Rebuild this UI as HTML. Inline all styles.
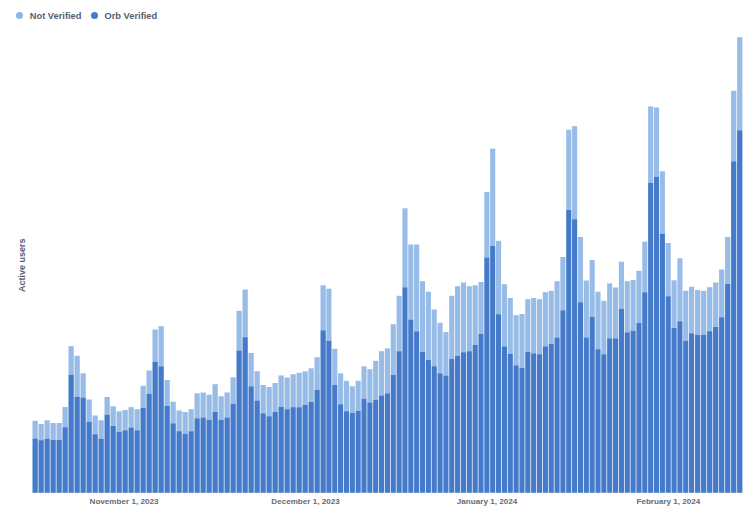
<!DOCTYPE html>
<html><head><meta charset="utf-8"><title>Active users</title>
<style>
html,body{margin:0;padding:0;background:#fff;}
body{width:750px;height:514px;position:relative;overflow:hidden;font-family:"Liberation Sans",sans-serif;font-weight:bold;}
.legend{position:absolute;left:0;top:0;height:30px;}
.dot{position:absolute;width:7.2px;height:7.2px;border-radius:50%;}
.lt{position:absolute;font-size:9.3px;line-height:12px;color:#575e73;white-space:nowrap;}
.yl{position:absolute;font-size:9px;line-height:12px;color:#575e73;white-space:nowrap;transform-origin:0 0;transform:rotate(-90deg);}
.xl{position:absolute;font-size:8.1px;line-height:10px;color:#666b78;white-space:nowrap;transform:translateX(-50%);}
svg{position:absolute;left:0;top:0;}
</style></head><body>
<svg width="750" height="514" viewBox="0 0 750 514">
<rect x="32.50" y="420.8" width="5.28" height="17.6" fill="#98bce8"/>
<rect x="32.50" y="438.4" width="5.28" height="54.4" fill="#447ac9"/>
<rect x="38.50" y="424.0" width="5.28" height="16.2" fill="#98bce8"/>
<rect x="38.50" y="440.2" width="5.28" height="52.6" fill="#447ac9"/>
<rect x="44.50" y="420.3" width="5.28" height="18.5" fill="#98bce8"/>
<rect x="44.50" y="438.8" width="5.28" height="54.0" fill="#447ac9"/>
<rect x="50.50" y="423.0" width="5.28" height="17.0" fill="#98bce8"/>
<rect x="50.50" y="440.0" width="5.28" height="52.8" fill="#447ac9"/>
<rect x="56.50" y="423.0" width="5.28" height="17.0" fill="#98bce8"/>
<rect x="56.50" y="440.0" width="5.28" height="52.8" fill="#447ac9"/>
<rect x="62.50" y="407.0" width="5.28" height="20.2" fill="#98bce8"/>
<rect x="62.50" y="427.2" width="5.28" height="65.6" fill="#447ac9"/>
<rect x="68.50" y="346.2" width="5.28" height="28.5" fill="#98bce8"/>
<rect x="68.50" y="374.7" width="5.28" height="118.1" fill="#447ac9"/>
<rect x="74.50" y="355.8" width="5.28" height="41.2" fill="#98bce8"/>
<rect x="74.50" y="397.0" width="5.28" height="95.8" fill="#447ac9"/>
<rect x="80.50" y="373.3" width="5.28" height="24.2" fill="#98bce8"/>
<rect x="80.50" y="397.5" width="5.28" height="95.3" fill="#447ac9"/>
<rect x="86.50" y="399.5" width="5.28" height="22.2" fill="#98bce8"/>
<rect x="86.50" y="421.7" width="5.28" height="71.1" fill="#447ac9"/>
<rect x="92.50" y="415.5" width="5.28" height="18.7" fill="#98bce8"/>
<rect x="92.50" y="434.2" width="5.28" height="58.6" fill="#447ac9"/>
<rect x="98.50" y="420.3" width="5.28" height="18.4" fill="#98bce8"/>
<rect x="98.50" y="438.7" width="5.28" height="54.1" fill="#447ac9"/>
<rect x="104.50" y="397.0" width="5.28" height="17.7" fill="#98bce8"/>
<rect x="104.50" y="414.7" width="5.28" height="78.1" fill="#447ac9"/>
<rect x="110.50" y="406.3" width="5.28" height="19.7" fill="#98bce8"/>
<rect x="110.50" y="426.0" width="5.28" height="66.8" fill="#447ac9"/>
<rect x="116.50" y="411.3" width="5.28" height="20.4" fill="#98bce8"/>
<rect x="116.50" y="431.7" width="5.28" height="61.1" fill="#447ac9"/>
<rect x="122.50" y="410.0" width="5.28" height="20.3" fill="#98bce8"/>
<rect x="122.50" y="430.3" width="5.28" height="62.5" fill="#447ac9"/>
<rect x="128.50" y="407.2" width="5.28" height="20.3" fill="#98bce8"/>
<rect x="128.50" y="427.5" width="5.28" height="65.3" fill="#447ac9"/>
<rect x="134.50" y="409.2" width="5.28" height="21.1" fill="#98bce8"/>
<rect x="134.50" y="430.3" width="5.28" height="62.5" fill="#447ac9"/>
<rect x="140.50" y="385.8" width="5.28" height="22.0" fill="#98bce8"/>
<rect x="140.50" y="407.8" width="5.28" height="85.0" fill="#447ac9"/>
<rect x="146.50" y="370.5" width="5.28" height="23.3" fill="#98bce8"/>
<rect x="146.50" y="393.8" width="5.28" height="99.0" fill="#447ac9"/>
<rect x="152.50" y="329.5" width="5.28" height="32.2" fill="#98bce8"/>
<rect x="152.50" y="361.7" width="5.28" height="131.1" fill="#447ac9"/>
<rect x="158.50" y="326.2" width="5.28" height="40.1" fill="#98bce8"/>
<rect x="158.50" y="366.3" width="5.28" height="126.5" fill="#447ac9"/>
<rect x="164.50" y="380.0" width="5.28" height="25.8" fill="#98bce8"/>
<rect x="164.50" y="405.8" width="5.28" height="87.0" fill="#447ac9"/>
<rect x="170.50" y="401.7" width="5.28" height="21.6" fill="#98bce8"/>
<rect x="170.50" y="423.3" width="5.28" height="69.5" fill="#447ac9"/>
<rect x="176.50" y="410.5" width="5.28" height="20.7" fill="#98bce8"/>
<rect x="176.50" y="431.2" width="5.28" height="61.6" fill="#447ac9"/>
<rect x="182.50" y="412.0" width="5.28" height="21.7" fill="#98bce8"/>
<rect x="182.50" y="433.7" width="5.28" height="59.1" fill="#447ac9"/>
<rect x="188.50" y="409.2" width="5.28" height="22.0" fill="#98bce8"/>
<rect x="188.50" y="431.2" width="5.28" height="61.6" fill="#447ac9"/>
<rect x="194.50" y="393.3" width="5.28" height="25.0" fill="#98bce8"/>
<rect x="194.50" y="418.3" width="5.28" height="74.5" fill="#447ac9"/>
<rect x="200.50" y="392.5" width="5.28" height="25.0" fill="#98bce8"/>
<rect x="200.50" y="417.5" width="5.28" height="75.3" fill="#447ac9"/>
<rect x="206.50" y="394.7" width="5.28" height="25.0" fill="#98bce8"/>
<rect x="206.50" y="419.7" width="5.28" height="73.1" fill="#447ac9"/>
<rect x="212.50" y="384.2" width="5.28" height="27.8" fill="#98bce8"/>
<rect x="212.50" y="412.0" width="5.28" height="80.8" fill="#447ac9"/>
<rect x="218.50" y="396.2" width="5.28" height="23.5" fill="#98bce8"/>
<rect x="218.50" y="419.7" width="5.28" height="73.1" fill="#447ac9"/>
<rect x="224.50" y="392.5" width="5.28" height="25.0" fill="#98bce8"/>
<rect x="224.50" y="417.5" width="5.28" height="75.3" fill="#447ac9"/>
<rect x="230.50" y="377.3" width="5.28" height="26.5" fill="#98bce8"/>
<rect x="230.50" y="403.8" width="5.28" height="89.0" fill="#447ac9"/>
<rect x="236.50" y="310.8" width="5.28" height="39.7" fill="#98bce8"/>
<rect x="236.50" y="350.5" width="5.28" height="142.3" fill="#447ac9"/>
<rect x="242.50" y="289.5" width="5.28" height="47.7" fill="#98bce8"/>
<rect x="242.50" y="337.2" width="5.28" height="155.6" fill="#447ac9"/>
<rect x="248.50" y="353.0" width="5.28" height="33.3" fill="#98bce8"/>
<rect x="248.50" y="386.3" width="5.28" height="106.5" fill="#447ac9"/>
<rect x="254.50" y="371.2" width="5.28" height="29.3" fill="#98bce8"/>
<rect x="254.50" y="400.5" width="5.28" height="92.3" fill="#447ac9"/>
<rect x="260.50" y="385.0" width="5.28" height="28.3" fill="#98bce8"/>
<rect x="260.50" y="413.3" width="5.28" height="79.5" fill="#447ac9"/>
<rect x="266.50" y="387.0" width="5.28" height="29.2" fill="#98bce8"/>
<rect x="266.50" y="416.2" width="5.28" height="76.6" fill="#447ac9"/>
<rect x="272.50" y="383.0" width="5.28" height="29.0" fill="#98bce8"/>
<rect x="272.50" y="412.0" width="5.28" height="80.8" fill="#447ac9"/>
<rect x="278.50" y="375.4" width="5.28" height="31.3" fill="#98bce8"/>
<rect x="278.50" y="406.7" width="5.28" height="86.1" fill="#447ac9"/>
<rect x="284.50" y="377.5" width="5.28" height="31.7" fill="#98bce8"/>
<rect x="284.50" y="409.2" width="5.28" height="83.6" fill="#447ac9"/>
<rect x="290.50" y="374.2" width="5.28" height="33.0" fill="#98bce8"/>
<rect x="290.50" y="407.2" width="5.28" height="85.6" fill="#447ac9"/>
<rect x="296.50" y="372.8" width="5.28" height="34.4" fill="#98bce8"/>
<rect x="296.50" y="407.2" width="5.28" height="85.6" fill="#447ac9"/>
<rect x="302.50" y="371.3" width="5.28" height="33.7" fill="#98bce8"/>
<rect x="302.50" y="405.0" width="5.28" height="87.8" fill="#447ac9"/>
<rect x="308.50" y="368.3" width="5.28" height="33.7" fill="#98bce8"/>
<rect x="308.50" y="402.0" width="5.28" height="90.8" fill="#447ac9"/>
<rect x="314.50" y="357.2" width="5.28" height="32.8" fill="#98bce8"/>
<rect x="314.50" y="390.0" width="5.28" height="102.8" fill="#447ac9"/>
<rect x="320.50" y="285.3" width="5.28" height="45.0" fill="#98bce8"/>
<rect x="320.50" y="330.3" width="5.28" height="162.5" fill="#447ac9"/>
<rect x="326.35" y="288.7" width="5.130000000000001" height="52.1" fill="#98bce8"/>
<rect x="326.35" y="340.8" width="5.130000000000001" height="152.0" fill="#447ac9"/>
<rect x="332.20" y="348.8" width="5.130000000000001" height="36.2" fill="#98bce8"/>
<rect x="332.20" y="385.0" width="5.130000000000001" height="107.8" fill="#447ac9"/>
<rect x="338.05" y="373.3" width="5.130000000000001" height="30.9" fill="#98bce8"/>
<rect x="338.05" y="404.2" width="5.130000000000001" height="88.6" fill="#447ac9"/>
<rect x="343.90" y="380.8" width="5.130000000000001" height="30.4" fill="#98bce8"/>
<rect x="343.90" y="411.2" width="5.130000000000001" height="81.6" fill="#447ac9"/>
<rect x="349.75" y="386.3" width="5.130000000000001" height="26.5" fill="#98bce8"/>
<rect x="349.75" y="412.8" width="5.130000000000001" height="80.0" fill="#447ac9"/>
<rect x="355.60" y="380.8" width="5.130000000000001" height="30.0" fill="#98bce8"/>
<rect x="355.60" y="410.8" width="5.130000000000001" height="82.0" fill="#447ac9"/>
<rect x="361.45" y="366.3" width="5.130000000000001" height="32.5" fill="#98bce8"/>
<rect x="361.45" y="398.8" width="5.130000000000001" height="94.0" fill="#447ac9"/>
<rect x="367.30" y="369.2" width="5.130000000000001" height="33.3" fill="#98bce8"/>
<rect x="367.30" y="402.5" width="5.130000000000001" height="90.3" fill="#447ac9"/>
<rect x="373.15" y="360.8" width="5.130000000000001" height="38.9" fill="#98bce8"/>
<rect x="373.15" y="399.7" width="5.130000000000001" height="93.1" fill="#447ac9"/>
<rect x="379.00" y="351.2" width="5.130000000000001" height="44.3" fill="#98bce8"/>
<rect x="379.00" y="395.5" width="5.130000000000001" height="97.3" fill="#447ac9"/>
<rect x="384.85" y="348.3" width="5.130000000000001" height="45.0" fill="#98bce8"/>
<rect x="384.85" y="393.3" width="5.130000000000001" height="99.5" fill="#447ac9"/>
<rect x="390.70" y="324.2" width="5.130000000000001" height="50.8" fill="#98bce8"/>
<rect x="390.70" y="375.0" width="5.130000000000001" height="117.8" fill="#447ac9"/>
<rect x="396.55" y="295.8" width="5.130000000000001" height="55.4" fill="#98bce8"/>
<rect x="396.55" y="351.2" width="5.130000000000001" height="141.6" fill="#447ac9"/>
<rect x="402.40" y="208.3" width="5.130000000000001" height="79.0" fill="#98bce8"/>
<rect x="402.40" y="287.3" width="5.130000000000001" height="205.5" fill="#447ac9"/>
<rect x="408.25" y="244.5" width="5.130000000000001" height="75.0" fill="#98bce8"/>
<rect x="408.25" y="319.5" width="5.130000000000001" height="173.3" fill="#447ac9"/>
<rect x="414.10" y="244.5" width="5.130000000000001" height="86.8" fill="#98bce8"/>
<rect x="414.10" y="331.3" width="5.130000000000001" height="161.5" fill="#447ac9"/>
<rect x="419.95" y="281.2" width="5.130000000000001" height="70.8" fill="#98bce8"/>
<rect x="419.95" y="352.0" width="5.130000000000001" height="140.8" fill="#447ac9"/>
<rect x="425.80" y="291.7" width="5.130000000000001" height="68.3" fill="#98bce8"/>
<rect x="425.80" y="360.0" width="5.130000000000001" height="132.8" fill="#447ac9"/>
<rect x="431.65" y="309.5" width="5.130000000000001" height="56.7" fill="#98bce8"/>
<rect x="431.65" y="366.2" width="5.130000000000001" height="126.6" fill="#447ac9"/>
<rect x="437.50" y="322.8" width="5.130000000000001" height="50.5" fill="#98bce8"/>
<rect x="437.50" y="373.3" width="5.130000000000001" height="119.5" fill="#447ac9"/>
<rect x="443.35" y="332.0" width="5.130000000000001" height="43.5" fill="#98bce8"/>
<rect x="443.35" y="375.5" width="5.130000000000001" height="117.3" fill="#447ac9"/>
<rect x="449.20" y="295.8" width="5.130000000000001" height="63.0" fill="#98bce8"/>
<rect x="449.20" y="358.8" width="5.130000000000001" height="134.0" fill="#447ac9"/>
<rect x="455.05" y="286.2" width="5.130000000000001" height="69.6" fill="#98bce8"/>
<rect x="455.05" y="355.8" width="5.130000000000001" height="137.0" fill="#447ac9"/>
<rect x="460.90" y="282.5" width="5.130000000000001" height="69.7" fill="#98bce8"/>
<rect x="460.90" y="352.2" width="5.130000000000001" height="140.6" fill="#447ac9"/>
<rect x="466.75" y="286.2" width="5.130000000000001" height="65.0" fill="#98bce8"/>
<rect x="466.75" y="351.2" width="5.130000000000001" height="141.6" fill="#447ac9"/>
<rect x="472.60" y="285.3" width="5.130000000000001" height="59.7" fill="#98bce8"/>
<rect x="472.60" y="345.0" width="5.130000000000001" height="147.8" fill="#447ac9"/>
<rect x="478.45" y="282.0" width="5.130000000000001" height="51.8" fill="#98bce8"/>
<rect x="478.45" y="333.8" width="5.130000000000001" height="159.0" fill="#447ac9"/>
<rect x="484.30" y="192.0" width="5.130000000000001" height="65.5" fill="#98bce8"/>
<rect x="484.30" y="257.5" width="5.130000000000001" height="235.3" fill="#447ac9"/>
<rect x="490.15" y="148.7" width="5.130000000000001" height="97.1" fill="#98bce8"/>
<rect x="490.15" y="245.8" width="5.130000000000001" height="247.0" fill="#447ac9"/>
<rect x="496.00" y="240.8" width="5.130000000000001" height="73.4" fill="#98bce8"/>
<rect x="496.00" y="314.2" width="5.130000000000001" height="178.6" fill="#447ac9"/>
<rect x="501.85" y="284.2" width="5.130000000000001" height="62.1" fill="#98bce8"/>
<rect x="501.85" y="346.3" width="5.130000000000001" height="146.5" fill="#447ac9"/>
<rect x="507.70" y="298.0" width="5.130000000000001" height="55.8" fill="#98bce8"/>
<rect x="507.70" y="353.8" width="5.130000000000001" height="139.0" fill="#447ac9"/>
<rect x="513.55" y="315.2" width="5.130000000000001" height="50.1" fill="#98bce8"/>
<rect x="513.55" y="365.3" width="5.130000000000001" height="127.5" fill="#447ac9"/>
<rect x="519.40" y="314.0" width="5.130000000000001" height="54.0" fill="#98bce8"/>
<rect x="519.40" y="368.0" width="5.130000000000001" height="124.8" fill="#447ac9"/>
<rect x="525.25" y="299.2" width="5.130000000000001" height="52.5" fill="#98bce8"/>
<rect x="525.25" y="351.7" width="5.130000000000001" height="141.1" fill="#447ac9"/>
<rect x="531.10" y="298.0" width="5.130000000000001" height="55.3" fill="#98bce8"/>
<rect x="531.10" y="353.3" width="5.130000000000001" height="139.5" fill="#447ac9"/>
<rect x="536.95" y="299.2" width="5.130000000000001" height="55.0" fill="#98bce8"/>
<rect x="536.95" y="354.2" width="5.130000000000001" height="138.6" fill="#447ac9"/>
<rect x="542.80" y="292.2" width="5.130000000000001" height="54.1" fill="#98bce8"/>
<rect x="542.80" y="346.3" width="5.130000000000001" height="146.5" fill="#447ac9"/>
<rect x="548.65" y="290.8" width="5.130000000000001" height="53.0" fill="#98bce8"/>
<rect x="548.65" y="343.8" width="5.130000000000001" height="149.0" fill="#447ac9"/>
<rect x="554.50" y="281.2" width="5.130000000000001" height="56.3" fill="#98bce8"/>
<rect x="554.50" y="337.5" width="5.130000000000001" height="155.3" fill="#447ac9"/>
<rect x="560.35" y="257.0" width="5.130000000000001" height="53.3" fill="#98bce8"/>
<rect x="560.35" y="310.3" width="5.130000000000001" height="182.5" fill="#447ac9"/>
<rect x="566.20" y="129.7" width="5.130000000000001" height="80.3" fill="#98bce8"/>
<rect x="566.20" y="210.0" width="5.130000000000001" height="282.8" fill="#447ac9"/>
<rect x="572.05" y="126.2" width="5.130000000000001" height="93.0" fill="#98bce8"/>
<rect x="572.05" y="219.2" width="5.130000000000001" height="273.6" fill="#447ac9"/>
<rect x="577.90" y="237.0" width="5.130000000000001" height="65.2" fill="#98bce8"/>
<rect x="577.90" y="302.2" width="5.130000000000001" height="190.6" fill="#447ac9"/>
<rect x="583.75" y="280.5" width="5.130000000000001" height="57.0" fill="#98bce8"/>
<rect x="583.75" y="337.5" width="5.130000000000001" height="155.3" fill="#447ac9"/>
<rect x="589.60" y="260.0" width="5.130000000000001" height="56.7" fill="#98bce8"/>
<rect x="589.60" y="316.7" width="5.130000000000001" height="176.1" fill="#447ac9"/>
<rect x="595.45" y="291.7" width="5.130000000000001" height="57.5" fill="#98bce8"/>
<rect x="595.45" y="349.2" width="5.130000000000001" height="143.6" fill="#447ac9"/>
<rect x="601.30" y="300.8" width="5.130000000000001" height="53.4" fill="#98bce8"/>
<rect x="601.30" y="354.2" width="5.130000000000001" height="138.6" fill="#447ac9"/>
<rect x="607.15" y="283.3" width="5.130000000000001" height="55.0" fill="#98bce8"/>
<rect x="607.15" y="338.3" width="5.130000000000001" height="154.5" fill="#447ac9"/>
<rect x="613.00" y="287.5" width="5.130000000000001" height="50.8" fill="#98bce8"/>
<rect x="613.00" y="338.3" width="5.130000000000001" height="154.5" fill="#447ac9"/>
<rect x="618.85" y="261.7" width="5.130000000000001" height="47.1" fill="#98bce8"/>
<rect x="618.85" y="308.8" width="5.130000000000001" height="184.0" fill="#447ac9"/>
<rect x="624.70" y="281.2" width="5.130000000000001" height="51.1" fill="#98bce8"/>
<rect x="624.70" y="332.3" width="5.130000000000001" height="160.5" fill="#447ac9"/>
<rect x="630.55" y="280.0" width="5.130000000000001" height="50.6" fill="#98bce8"/>
<rect x="630.55" y="330.6" width="5.130000000000001" height="162.2" fill="#447ac9"/>
<rect x="636.40" y="270.8" width="5.130000000000001" height="52.2" fill="#98bce8"/>
<rect x="636.40" y="323.0" width="5.130000000000001" height="169.8" fill="#447ac9"/>
<rect x="642.25" y="241.7" width="5.130000000000001" height="50.5" fill="#98bce8"/>
<rect x="642.25" y="292.2" width="5.130000000000001" height="200.6" fill="#447ac9"/>
<rect x="648.10" y="106.5" width="5.130000000000001" height="76.4" fill="#98bce8"/>
<rect x="648.10" y="182.9" width="5.130000000000001" height="309.9" fill="#447ac9"/>
<rect x="653.95" y="107.5" width="5.12999999999999" height="69.2" fill="#98bce8"/>
<rect x="653.95" y="176.7" width="5.12999999999999" height="316.1" fill="#447ac9"/>
<rect x="659.80" y="171.3" width="5.12999999999999" height="62.4" fill="#98bce8"/>
<rect x="659.80" y="233.7" width="5.12999999999999" height="259.1" fill="#447ac9"/>
<rect x="665.65" y="243.0" width="5.12999999999999" height="53.2" fill="#98bce8"/>
<rect x="665.65" y="296.2" width="5.12999999999999" height="196.6" fill="#447ac9"/>
<rect x="671.50" y="280.3" width="5.12999999999999" height="47.7" fill="#98bce8"/>
<rect x="671.50" y="328.0" width="5.12999999999999" height="164.8" fill="#447ac9"/>
<rect x="677.35" y="258.3" width="5.12999999999999" height="63.0" fill="#98bce8"/>
<rect x="677.35" y="321.3" width="5.12999999999999" height="171.5" fill="#447ac9"/>
<rect x="683.20" y="290.8" width="5.12999999999999" height="50.0" fill="#98bce8"/>
<rect x="683.20" y="340.8" width="5.12999999999999" height="152.0" fill="#447ac9"/>
<rect x="689.05" y="286.7" width="5.12999999999999" height="46.6" fill="#98bce8"/>
<rect x="689.05" y="333.3" width="5.12999999999999" height="159.5" fill="#447ac9"/>
<rect x="695.06" y="290.0" width="5.286250000000009" height="44.7" fill="#98bce8"/>
<rect x="695.06" y="334.7" width="5.286250000000009" height="158.1" fill="#447ac9"/>
<rect x="701.06" y="290.8" width="5.286250000000009" height="43.9" fill="#98bce8"/>
<rect x="701.06" y="334.7" width="5.286250000000009" height="158.1" fill="#447ac9"/>
<rect x="707.07" y="287.2" width="5.286250000000009" height="44.0" fill="#98bce8"/>
<rect x="707.07" y="331.2" width="5.286250000000009" height="161.6" fill="#447ac9"/>
<rect x="713.08" y="282.5" width="5.286250000000009" height="44.5" fill="#98bce8"/>
<rect x="713.08" y="327.0" width="5.286250000000009" height="165.8" fill="#447ac9"/>
<rect x="719.08" y="269.5" width="5.286250000000009" height="47.7" fill="#98bce8"/>
<rect x="719.08" y="317.2" width="5.286250000000009" height="175.6" fill="#447ac9"/>
<rect x="725.09" y="237.0" width="5.286250000000009" height="46.8" fill="#98bce8"/>
<rect x="725.09" y="283.8" width="5.286250000000009" height="209.0" fill="#447ac9"/>
<rect x="731.09" y="90.8" width="5.286250000000009" height="70.5" fill="#98bce8"/>
<rect x="731.09" y="161.3" width="5.286250000000009" height="331.5" fill="#447ac9"/>
<rect x="737.10" y="37.2" width="5.286250000000009" height="93.1" fill="#98bce8"/>
<rect x="737.10" y="130.3" width="5.286250000000009" height="362.5" fill="#447ac9"/>
</svg>
<div style="position:absolute;left:29.8px;top:494.9px;width:1.4px;height:1.4px;border-radius:50%;background:#ddd"></div>
<div class="dot" style="left:15.7px;top:11.5px;background:#8db6ea"></div>
<div class="lt" style="left:29.8px;top:10.0px">Not Verified</div>
<div class="dot" style="left:91.3px;top:11.5px;background:#447ac9"></div>
<div class="lt" style="left:104.5px;top:10.0px">Orb Verified</div>
<div class="yl" style="left:15.5px;top:291.5px">Active users</div>
<div class="xl" style="left:124px;top:497.2px">November 1, 2023</div>
<div class="xl" style="left:305.5px;top:497.2px">December 1, 2023</div>
<div class="xl" style="left:487px;top:497.2px">January 1, 2024</div>
<div class="xl" style="left:668.4px;top:497.2px">February 1, 2024</div>
</body></html>
